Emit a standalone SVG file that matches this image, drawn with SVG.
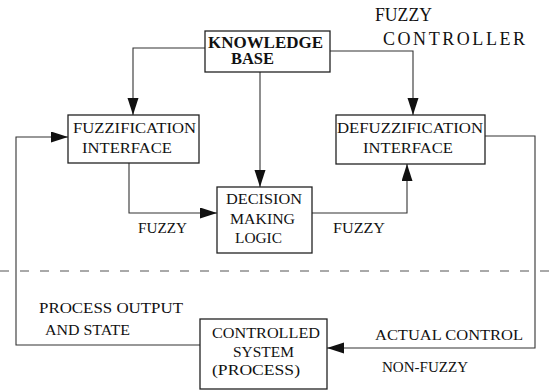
<svg xmlns="http://www.w3.org/2000/svg" width="554" height="390" viewBox="0 0 554 390">
<defs>
<style>
.box{fill:#fff;stroke:#222;stroke-width:1.3}
.ln{fill:none;stroke:#333;stroke-width:1.1}
.t{font-family:"Liberation Serif","Times New Roman",serif;font-size:15px;fill:#111}
.b{font-weight:bold;font-size:16px}
.big{font-size:18px}
.dash{fill:none;stroke:#555;stroke-width:1.1;stroke-dasharray:9 11}
</style>
<marker id="ah" markerUnits="userSpaceOnUse" markerWidth="18" markerHeight="12" refX="17" refY="5.5" orient="auto">
<path d="M0,0 L17,5.5 L0,11 Z" fill="#111"/>
</marker>
</defs>
<rect width="554" height="390" fill="#fff"/>
<g id="connectors">
<polyline class="ln" points="205,48 133,48 133,115" marker-end="url(#ah)"/>
<line class="ln" x1="260" y1="72" x2="260" y2="187" marker-end="url(#ah)"/>
<polyline class="ln" points="330,51 413,51 413,115" marker-end="url(#ah)"/>
<polyline class="ln" points="129,163 129,213 217,213" marker-end="url(#ah)"/>
<polyline class="ln" points="312,213 407,213 407,164" marker-end="url(#ah)"/>
<polyline class="ln" points="485,136 535,136 535,348 327,348" marker-end="url(#ah)"/>
<polyline class="ln" points="200,345 16,345 16,137 68,137" marker-end="url(#ah)"/>
<line class="dash" x1="0" y1="271" x2="554" y2="271"/>
</g>
<g id="knowledge-base">
<rect class="box" x="205" y="31" width="125" height="41"/>
<text class="t b" x="208" y="48" textLength="115" lengthAdjust="spacingAndGlyphs">KNOWLEDGE</text>
<text class="t b" x="231" y="64" textLength="43" lengthAdjust="spacingAndGlyphs">BASE</text>
</g>
<g id="fuzzification">
<rect class="box" x="68" y="115" width="131" height="48"/>
<text class="t" x="73" y="133" textLength="123" lengthAdjust="spacingAndGlyphs">FUZZIFICATION</text>
<text class="t" x="82" y="153" textLength="90" lengthAdjust="spacingAndGlyphs">INTERFACE</text>
</g>
<g id="defuzzification">
<rect class="box" x="336" y="115" width="149" height="49"/>
<text class="t" x="337" y="133" textLength="146" lengthAdjust="spacingAndGlyphs">DEFUZZIFICATION</text>
<text class="t" x="363" y="153" textLength="90" lengthAdjust="spacingAndGlyphs">INTERFACE</text>
</g>
<g id="decision">
<rect class="box" x="217" y="187" width="95" height="66"/>
<text class="t" x="226" y="204" textLength="76" lengthAdjust="spacingAndGlyphs">DECISION</text>
<text class="t" x="230" y="224" textLength="65" lengthAdjust="spacingAndGlyphs">MAKING</text>
<text class="t" x="235" y="243" textLength="47" lengthAdjust="spacingAndGlyphs">LOGIC</text>
</g>
<g id="controlled-system">
<rect class="box" x="200" y="319" width="127" height="70"/>
<text class="t" x="212" y="338" textLength="108" lengthAdjust="spacingAndGlyphs">CONTROLLED</text>
<text class="t" x="233" y="357" textLength="61" lengthAdjust="spacingAndGlyphs">SYSTEM</text>
<text class="t" x="212" y="375" textLength="88" lengthAdjust="spacingAndGlyphs">(PROCESS)</text>
</g>
<g id="labels">
<text class="t big" x="375" y="21" textLength="57" lengthAdjust="spacingAndGlyphs">FUZZY</text>
<text class="t big" x="383" y="45" textLength="142" lengthAdjust="spacing">CONTROLLER</text>
<text class="t" x="138" y="233" textLength="49" lengthAdjust="spacingAndGlyphs">FUZZY</text>
<text class="t" x="333" y="233" textLength="52" lengthAdjust="spacingAndGlyphs">FUZZY</text>
<text class="t" x="39" y="313" textLength="144" lengthAdjust="spacingAndGlyphs">PROCESS OUTPUT</text>
<text class="t" x="45" y="335" textLength="85" lengthAdjust="spacingAndGlyphs">AND STATE</text>
<text class="t" x="375" y="340" textLength="148" lengthAdjust="spacingAndGlyphs">ACTUAL CONTROL</text>
<text class="t" x="382" y="372" textLength="86" lengthAdjust="spacingAndGlyphs">NON-FUZZY</text>
</g>
</svg>
